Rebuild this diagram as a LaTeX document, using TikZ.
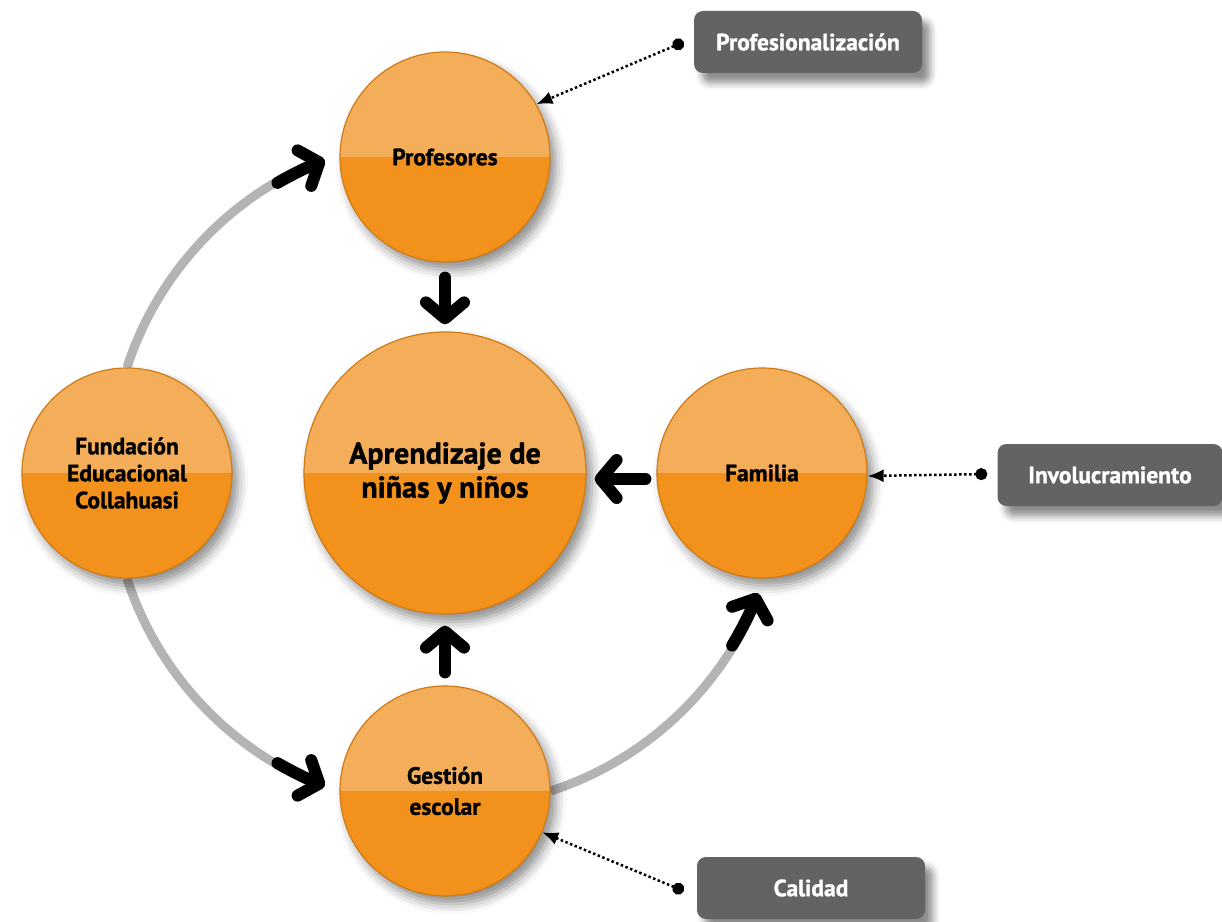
\documentclass[tikz,border=0pt]{standalone}
\usepackage{fontspec}
\setmainfont{PT Sans}[BoldFeatures={FakeBold=1.2}]
\usetikzlibrary{arrows.meta,positioning,calc,backgrounds,shadows.blur}

\definecolor{ballLight}{HTML}{F4AE5A}
\definecolor{ballDark}{HTML}{F2921C}
\definecolor{ballRim}{HTML}{CF7A14}
\definecolor{tagGray}{HTML}{636363}
\definecolor{ringGray}{HTML}{B4B4B4}

\tikzset{
  ball/.style={circle, draw=ballRim, line width=1.2pt, fill=ballDark, minimum size=210pt, inner sep=0pt, align=center,
    font=\bfseries\fontsize{23.5}{27}\selectfont,
    path picture={\fill[ballLight] (path picture bounding box.north west) rectangle (path picture bounding box.east);},
    blur shadow={shadow xshift=6pt, shadow yshift=-8pt, shadow blur radius=10pt, shadow opacity=45}},
  tag/.style={rectangle, rounded corners=9pt, fill=tagGray, text=white, minimum width=228pt, minimum height=62pt,
    font=\bfseries\fontsize{23.5}{24}\selectfont,
    blur shadow={shadow xshift=8pt, shadow yshift=-10pt, shadow blur radius=7pt, shadow opacity=45}},
  bigarrow/.style={line width=12pt, line cap=round, -{Straight Barb[length=16pt, width=38pt, round]}},
  ring/.style={line width=9pt, draw=ringGray},
  ringtip/.style={line width=12pt, line cap=round, -{Straight Barb[length=16pt, width=38pt, round]}},
  link/.style={dash pattern=on 2.5pt off 2.5pt, line width=2.5pt, {Circle[length=12pt]}-{Latex[length=16pt, width=13pt]}}
}

\begin{document}
\begin{tikzpicture}[x=1pt, y=1pt]
\useasboundingbox (-445,-448) rectangle (777,473);
\node[ball, minimum size=282pt, font=\bfseries\fontsize{30}{34}\selectfont] (learn) at (0,0) {Aprendizaje de\\niñas y niños};
\node[ball, above of=learn, node distance=316pt] (prof) {Profesores};
\node[ball, below of=learn, node distance=318pt, font=\bfseries\fontsize{23.5}{31}\selectfont] (gest) {Gestión\\escolar};
\node[ball, left of=learn, node distance=318pt] (fund) {Fundación\\Educacional\\Collahuasi};
\node[ball, right of=learn, node distance=317pt] (fam) {Familia};

\node[tag] (tagprof) at (363,431) {Profesionalización};
\node[tag, minimum width=225pt] (taginv) at (665,-2) {Involucramiento};
\node[tag] (tagcal) at (366,-415) {Calidad};

% ring round the centre
\begin{scope}[on background layer]
\draw[ring] (fund.north) arc[start angle=162, end angle=114, radius=335pt];
\draw[ring] (fund.south) arc[start angle=198, end angle=246, radius=335pt];
\draw[ring] (gest.east) arc[start angle=288, end angle=336, radius=335pt];
\end{scope}
\draw[ringtip] ([shift={(120:335pt)}]learn.center) arc[start angle=120, end angle=111, radius=335pt];
\draw[ringtip] ([shift={(240:335pt)}]learn.center) arc[start angle=240, end angle=249, radius=335pt];
\draw[ringtip] ([shift={(329:335pt)}]learn.center) arc[start angle=329, end angle=339, radius=335pt];

\draw[bigarrow, shorten <=15pt, shorten >=7pt] (prof.south) -- (learn.north);
\draw[bigarrow, shorten <=13pt, shorten >=11pt] (gest.north) -- (learn.south);
\draw[bigarrow, shorten <=11pt, shorten >=8pt] ([yshift=-6pt]fam.west) -- ([yshift=-6pt]learn.east);

\draw[link] ([xshift=-10pt]tagprof.west) -- (prof.30);
\draw[link] ([xshift=-10pt, yshift=1pt]taginv.west) -- ([yshift=-3pt]fam.east);
\draw[link] ([xshift=-13pt, yshift=-3pt]tagcal.west) -- (gest.-23);
\end{tikzpicture}
\end{document}
